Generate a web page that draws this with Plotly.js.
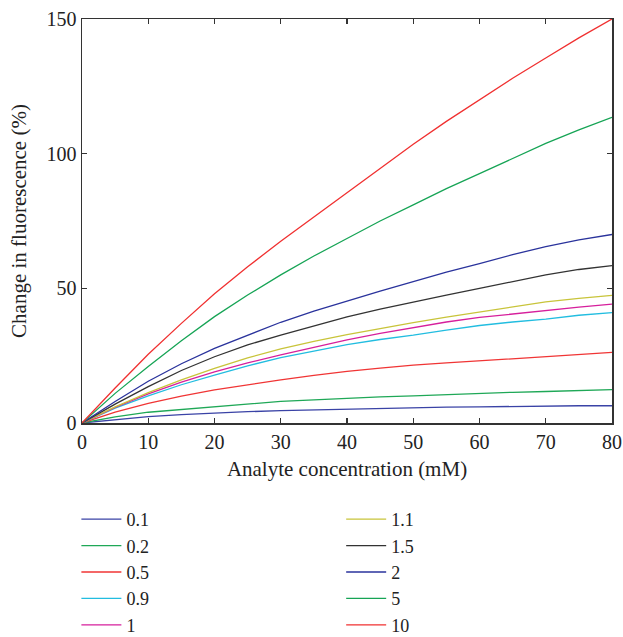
<!DOCTYPE html>
<html>
<head>
<meta charset="utf-8">
<script src="https://cdn.plot.ly/plotly-3.0.1.min.js"></script>
<style>html,body{margin:0;padding:0;background:#fff;}#chart{width:623px;height:637px;}</style>
</head>
<body>
<div id="chart"></div>
<script>
const conc = [0, 5, 10, 15, 20, 25, 30, 35, 40, 45, 50, 55, 60, 65, 70, 75, 80];

const s01 = [0, 1.3, 2.4, 3.1, 3.7, 4.2, 4.6, 4.9, 5.1, 5.5, 5.8, 5.9, 6.0, 6.2, 6.4, 6.4, 6.4];
const s02 = [0, 2.3, 4.0, 5.0, 6.1, 7.2, 8.0, 8.6, 9.2, 9.7, 10.1, 10.6, 11.1, 11.4, 11.7, 12.0, 12.4];
const s05 = [0, 4.0, 7.3, 10.0, 12.3, 14.2, 16.0, 17.7, 19.2, 20.4, 21.5, 22.3, 23.1, 24.0, 24.8, 25.5, 26.2];
const s09 = [0, 5.5, 10.1, 14.2, 17.8, 21.2, 24.3, 26.8, 29.1, 31.0, 32.6, 34.5, 36.2, 37.5, 38.6, 40.0, 41.0];
const s1  = [0, 5.8, 10.8, 15.2, 19.0, 22.3, 25.3, 28.2, 30.9, 33.3, 35.5, 37.5, 39.2, 40.5, 41.7, 43.0, 44.1];
const s11 = [0, 6.0, 11.3, 16.0, 20.3, 24.2, 27.5, 30.3, 32.8, 35.1, 37.3, 39.3, 41.2, 43.0, 45.0, 46.3, 47.4];
const s15 = [0, 7.0, 13.5, 19.5, 24.6, 29.0, 32.6, 36.0, 39.4, 42.3, 45.0, 47.5, 50.0, 52.5, 55.0, 57.0, 58.4];
const s2  = [0, 8.0, 15.5, 22.0, 27.7, 32.6, 37.4, 41.5, 45.3, 49.0, 52.5, 56.0, 59.2, 62.5, 65.5, 68.0, 70.0];
const s5  = [0, 11.0, 21.0, 30.5, 39.5, 47.5, 55.0, 62.0, 68.5, 75.0, 81.0, 87.0, 92.6, 98.3, 103.8, 108.8, 113.5];
const s10 = [0, 13.0, 25.5, 37.0, 48.0, 58.0, 67.5, 76.5, 85.5, 94.5, 103.5, 112.0, 120.0, 128.0, 135.5, 143.0, 150.0];

const names = ["0.1", "0.2", "0.5", "0.9", "1", "1.1", "1.5", "2", "5", "10"];
const series = [s01, s02, s05, s09, s1, s11, s15, s2, s5, s10];
const colors = ["#3a43a6", "#1fa857", "#f03535", "#22bde0", "#d61f9c", "#c8c43a", "#333333", "#2a339c", "#16a455", "#f03030"];
const legendOf = ["legend", "legend", "legend", "legend", "legend", "legend2", "legend2", "legend2", "legend2", "legend2"];

const traces = series.map((ys, i) => ({
  x: conc, y: ys, type: "scatter", mode: "lines", name: names[i],
  line: {color: colors[i], width: 1.3},
  legend: legendOf[i]
}));

const fam = "Liberation Serif, Times New Roman, serif";
const tickFont = {family: fam, size: 20, color: "#222"};
const titleFont = {family: fam, size: 21, color: "#222"};
const legFont = {family: fam, size: 18, color: "#222"};
const axisCommon = {
  showgrid: false, zeroline: false, showline: true, linecolor: "#333", linewidth: 1.5,
  mirror: "ticks", ticks: "inside", ticklen: 5, tickwidth: 1.3, tickcolor: "#333",
  tickfont: tickFont
};

const layout = {
  width: 623, height: 637,
  margin: {l: 82, r: 11, t: 19, b: 214},
  paper_bgcolor: "#fff", plot_bgcolor: "#fff",
  font: tickFont,
  xaxis: Object.assign({}, axisCommon, {range: [0, 80], dtick: 10, tick0: 0, automargin: false,
    title: {text: "Analyte concentration (mM)", font: titleFont, standoff: 10}}),
  yaxis: Object.assign({}, axisCommon, {range: [0, 150], dtick: 50, tick0: 0, automargin: false,
    title: {text: "Change in fluorescence (%)", font: titleFont, standoff: 14}}),
  legend: {xref: "paper", yref: "container", x: -0.0106, y: 0.2135, xanchor: "left", yanchor: "top",
    orientation: "v", font: legFont, bgcolor: "rgba(0,0,0,0)", tracegroupgap: 0, itemwidth: 40},
  legend2: {xref: "paper", yref: "container", x: 0.489, y: 0.2135, xanchor: "left", yanchor: "top",
    orientation: "v", font: legFont, bgcolor: "rgba(0,0,0,0)", tracegroupgap: 0, itemwidth: 40},
  showlegend: true
};

Plotly.newPlot("chart", traces, layout, {displayModeBar: false, staticPlot: true});
</script>
</body>
</html>
